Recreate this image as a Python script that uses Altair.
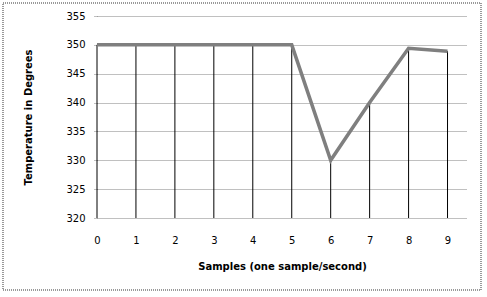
import altair as alt
import pandas as pd

samples = [0, 1, 2, 3, 4, 5, 6, 7, 8, 9]
temps = [350, 350, 350, 350, 350, 350, 330, 340, 349.4, 348.9]
y_ticks = [320, 325, 330, 335, 340, 345, 350, 355]

df = pd.DataFrame({"sample": samples, "temp": temps})

FONT = "DejaVu Sans"

x_scale = alt.Scale(domain=[0, 9.5], nice=False, zero=False)
y_scale = alt.Scale(domain=[320, 355], nice=False, zero=False)

x_axis = alt.Axis(values=samples, title="Samples (one sample/second)", grid=False,
                  domain=False, ticks=False, labelPadding=17, titlePadding=16,
                  labelFont=FONT, labelFontSize=10, labelColor="#000000",
                  titleFont=FONT, titleFontSize=10, titleFontWeight="bold",
                  titleColor="#000000", labelFlush=False)
y_axis = alt.Axis(values=y_ticks, title="Temperature in Degrees", grid=True,
                  gridColor="#808080", gridDash=[1, 1], domain=False,
                  tickColor="#808080", tickDash=[1, 1], tickSize=4,
                  labelPadding=8, titlePadding=32,
                  labelFont=FONT, labelFontSize=10, labelColor="#000000",
                  titleFont=FONT, titleFontSize=10, titleFontWeight="bold",
                  titleColor="#000000")

base = alt.Chart(df)

drops = base.mark_rule(color="#000000", strokeWidth=1).encode(
    x=alt.X("sample:Q", scale=x_scale, axis=x_axis),
    y=alt.Y("temp:Q", scale=y_scale, axis=y_axis),
    y2=alt.datum(320),
)

line = base.mark_line(color="#7f7f7f", strokeWidth=3.5).encode(
    x=alt.X("sample:Q", scale=x_scale, axis=x_axis),
    y=alt.Y("temp:Q", scale=y_scale, axis=y_axis),
)

border = base.mark_rect(fill=None, stroke="#999999", strokeDash=[1, 1], strokeWidth=1, clip=False).encode(
    x=alt.value(-94), x2=alt.value(384), y=alt.value(-13), y2=alt.value(274),
)

chart = alt.layer(drops, line, border).properties(
    width=370, height=202,
    autosize=alt.AutoSizeParams(type="none"),
    padding={"left": 97, "top": 16, "right": 20, "bottom": 79},
    background="#ffffff",
).configure_view(stroke=None)

chart.save("out.html", embed_options={"renderer": "svg", "actions": False})
